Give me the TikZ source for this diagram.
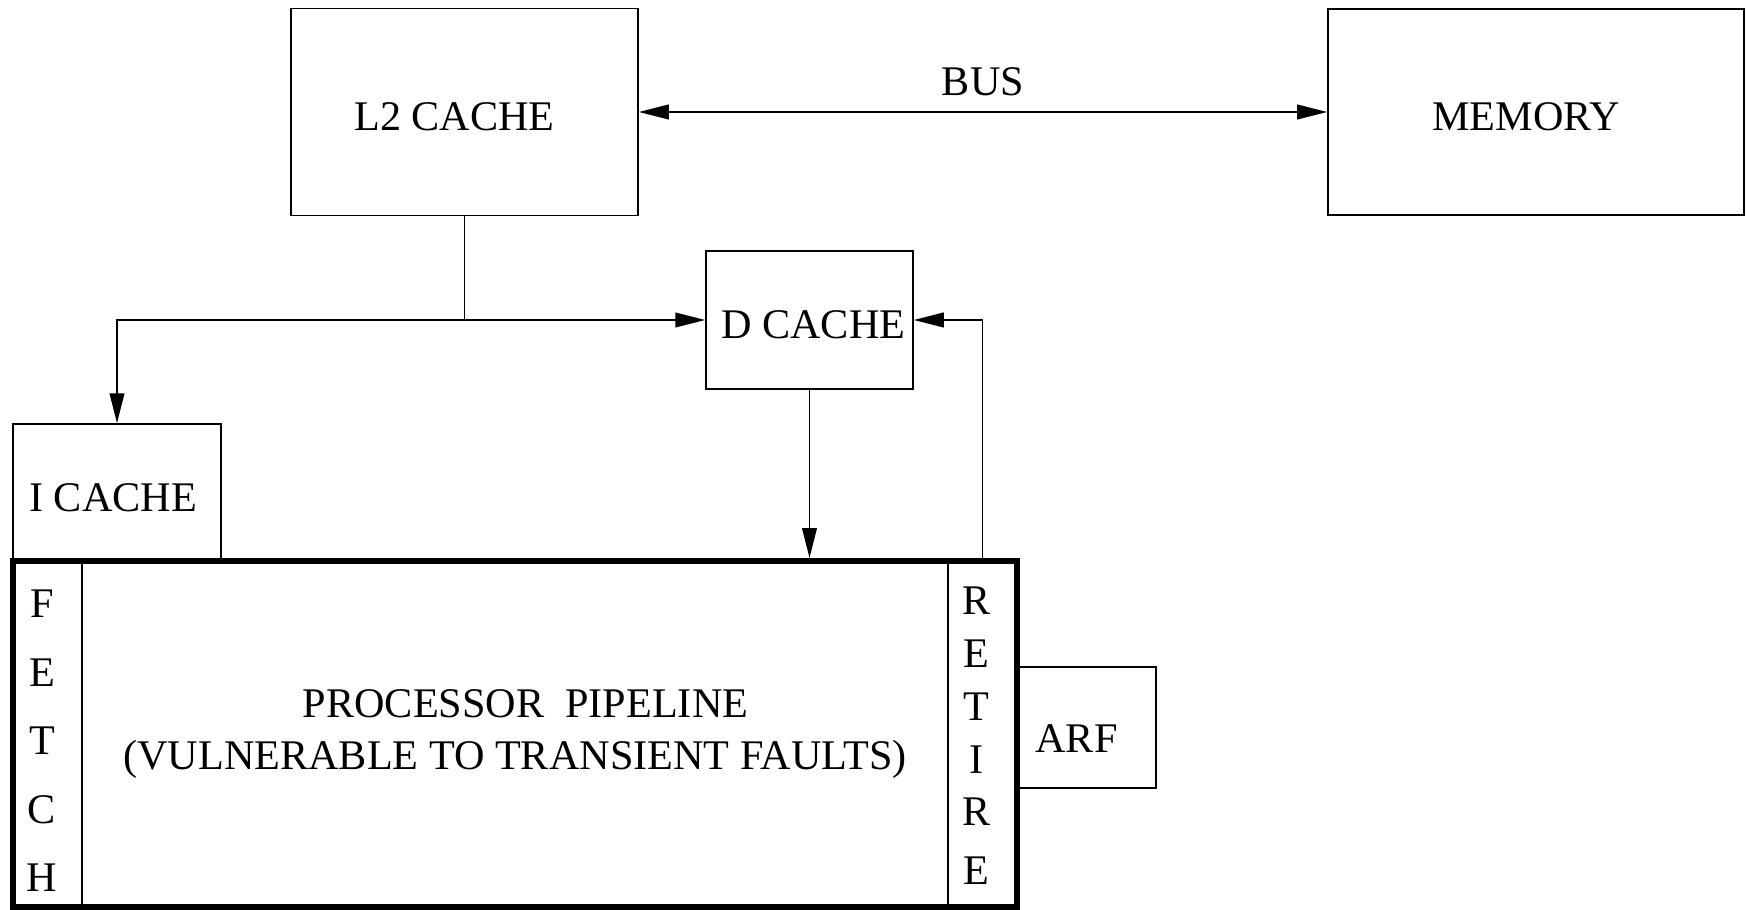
\documentclass[tikz,border=0pt]{standalone}
\usepackage{fontspec}
\setmainfont{Liberation Serif}
\usepackage{tikz}
\usetikzlibrary{arrows.meta,positioning,calc}

\begin{document}
\begin{tikzpicture}[
  x=0.01cm, y=-0.01cm,
  font=\fontsize{12}{14.8}\selectfont,
  box/.style={rectangle, draw, line width=0.45pt, inner sep=0pt, text height=10.7pt, text depth=0pt},
  stage/.style={rectangle, draw, line width=0.45pt, minimum width=0.69cm, minimum height=3.46cm},
  letters/.style={align=center, inner sep=0pt},
  arrow/.style={-{Triangle[length=8.5pt,width=4.2pt]}, line width=0.45pt},
  biarrow/.style={{Triangle[length=8.5pt,width=4.2pt]}-{Triangle[length=8.5pt,width=4.2pt]}, line width=0.45pt}
]
\useasboundingbox (0,0) rectangle (1746,910);

% Memory side
\node[box, minimum width=3.47cm, minimum height=2.07cm] (l2) at (464.5,112) {\hspace*{-5.7pt}L2 CACHE};
\node[box, minimum width=4.16cm, minimum height=2.06cm] (mem) at (1536,112) {\hspace*{-5.7pt}MEMORY};
\draw[biarrow] (l2.east) -- (mem.west) node[midway, above=1pt] (bus) {BUS};

% L1 caches
\node[box, minimum width=2.07cm, minimum height=1.38cm] (dcache) at (809.5,320) {D CACHE\hspace*{-2.2pt}};
\node[box, minimum width=2.08cm, minimum height=1.36cm, text height=11.2pt] (icache) at (117,492) {\hspace*{-2.2pt}I CACHE};

% Pipeline
\node[stage] (fetch) at (47.5,734) {};
\node[stage] (retire) at (982.5,734) {};
\node[letters, font=\fontsize{12}{19.5}\selectfont] (fetchtxt) at (42,741) {F\\E\\T\\C\\H};
\node[letters, font=\fontsize{12}{15}\selectfont] (retiretxt) at (976.5,736) {R\\E\\T\\I\\R\\[1.8pt]E};
\node[rectangle, draw, line width=1.7pt, minimum width=10.04cm, minimum height=3.46cm, align=center] (pipe) at (515,734)
  {\hspace*{6pt}PROCESSOR\ \ PIPELINE\\(VULNERABLE TO TRANSIENT FAULTS)};
\node[box, minimum width=1.39cm, minimum height=1.21cm, text height=14.3pt] (arf) at (1086.5,727.5) {\hspace*{-5.7pt}ARF};

% Connections
\coordinate (split) at (l2.south |- dcache.west);
\draw[arrow] (l2.south) |- (dcache.west);
\draw[arrow] (split) -| (icache.north);
\draw[arrow] (dcache.south) -- (dcache.south |- pipe.north);
\draw[arrow] (retire.north) |- (dcache.east);

\end{tikzpicture}
\end{document}
